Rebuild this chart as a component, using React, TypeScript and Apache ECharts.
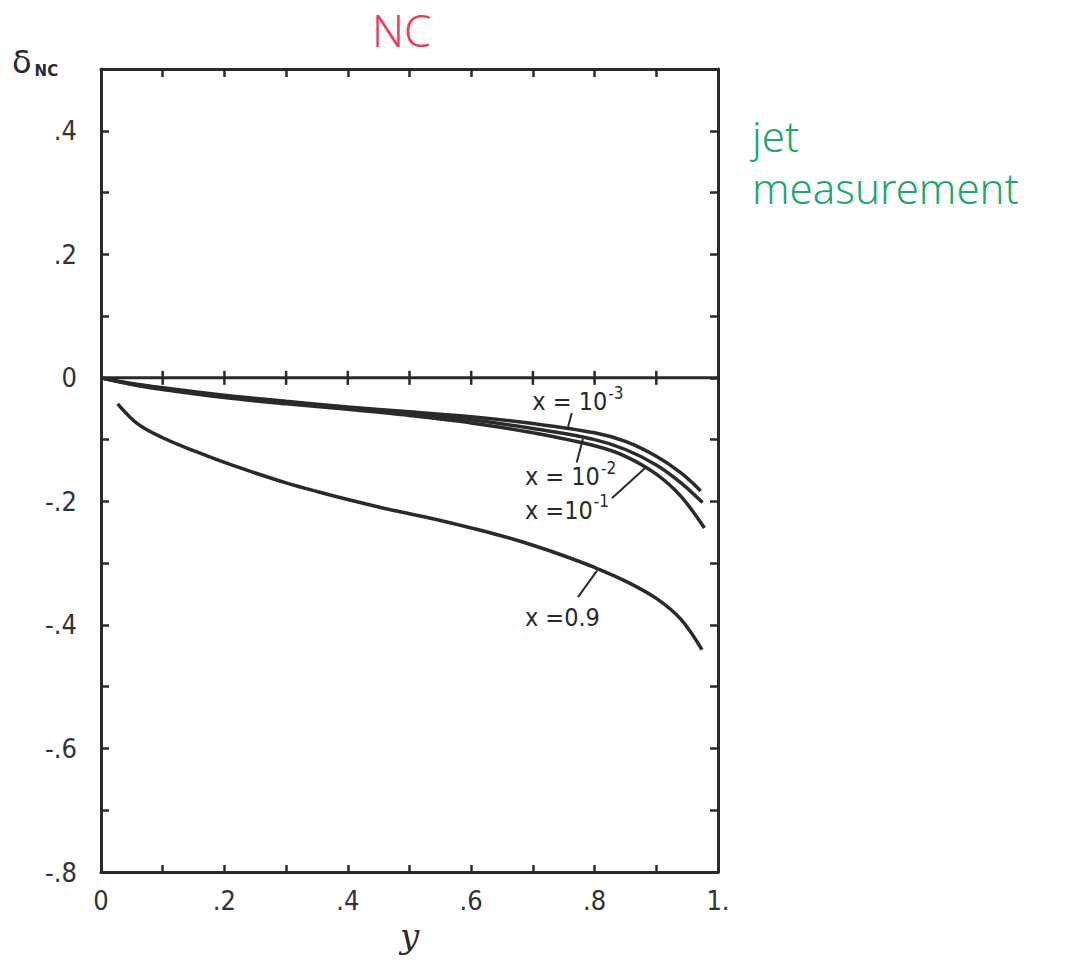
import React, { useEffect, useRef } from "react";
import * as echarts from "echarts";

// ---- data ----
const curveX1e3: [number, number][] = [
  [0, 0], [0.05, -0.009], [0.1, -0.016], [0.2, -0.028], [0.3, -0.038], [0.4, -0.047],
  [0.5, -0.055], [0.6, -0.063], [0.7, -0.074], [0.8, -0.089], [0.85, -0.103],
  [0.9, -0.127], [0.94, -0.154], [0.972, -0.183],
];
const curveX1e2: [number, number][] = [
  [0, 0], [0.05, -0.01], [0.1, -0.017], [0.2, -0.03], [0.3, -0.04], [0.4, -0.049],
  [0.5, -0.058], [0.6, -0.068], [0.7, -0.082], [0.8, -0.1], [0.85, -0.116],
  [0.9, -0.141], [0.94, -0.17], [0.975, -0.202],
];
const curveX1e1: [number, number][] = [
  [0, 0], [0.05, -0.011], [0.1, -0.019], [0.2, -0.032], [0.3, -0.042], [0.4, -0.051],
  [0.5, -0.061], [0.6, -0.073], [0.7, -0.089], [0.8, -0.11], [0.85, -0.127],
  [0.9, -0.156], [0.94, -0.192], [0.978, -0.243],
];
const curveX09: [number, number][] = [
  [0.027, -0.042], [0.06, -0.075], [0.1, -0.097], [0.15, -0.118], [0.2, -0.137],
  [0.25, -0.154], [0.3, -0.17], [0.35, -0.184], [0.4, -0.197], [0.45, -0.209],
  [0.5, -0.22], [0.55, -0.231], [0.6, -0.243], [0.65, -0.256], [0.7, -0.271],
  [0.75, -0.288], [0.8, -0.307], [0.85, -0.329], [0.9, -0.357], [0.94, -0.391],
  [0.974, -0.44],
];

// annotation labels: main text, superscript
const annotationMain = ["x = 10", "x = 10", "x =10", "x =0.9"];
const annotationSup = ["-3", "-2", "-1", ""];
// anchor of text (y, delta), leader start on curve, leader end near text
const annotationText: [number, number][] = [[0.699, -0.035], [0.687, -0.156], [0.687, -0.21], [0.687, -0.384]];
const leaderFrom: [number, number][] = [[0.757, -0.079], [0.781, -0.099], [0.882, -0.146], [0.804, -0.312]];
const leaderTo: [number, number][] = [[0.763, -0.057], [0.771, -0.137], [0.828, -0.195], [0.773, -0.355]];

// ticks on the zero line
const zeroLineTicks = [0.1, 0.2, 0.3, 0.4, 0.5, 0.6, 0.7, 0.8, 0.9];

const yMin = -0.8;
const yMax = 0.5;
const xMin = 0;
const xMax = 1;
const tickStep = 0.1;

const INK = "#2a2a2a";
const FONT = "'DejaVu Sans Condensed', 'Liberation Sans Narrow', 'Roboto Condensed', Roboto, 'DejaVu Sans', sans-serif";

function fmtY(v: number): string {
  const k = Math.round(v * 10);
  if (k % 2 !== 0) return "";
  if (k === 0) return "0";
  return (k < 0 ? "-" : "") + "." + Math.abs(k);
}
function fmtX(v: number): string {
  const k = Math.round(v * 10);
  if (k % 2 !== 0) return "";
  if (k === 0) return "0";
  if (k === 10) return "1.";
  return "." + k;
}

export default function App() {
  const ref = useRef<HTMLDivElement>(null);
  useEffect(() => {
    if (!ref.current) return;
    const chart = echarts.init(ref.current, null, { renderer: "svg" });

    const frameAxis = (extra: any) => ({
      type: "value",
      min: xMin,
      max: xMax,
      interval: tickStep,
      splitLine: { show: false },
      axisLabel: { show: false },
      axisLine: { show: true, onZero: false, lineStyle: { color: INK, width: 3 } },
      axisTick: { show: true, inside: true, length: 8, lineStyle: { color: INK, width: 2.5 } },
      ...extra,
    });

    const lineSeries = (data: [number, number][]) => ({
      type: "line",
      data,
      smooth: 0.35,
      showSymbol: false,
      symbol: "none",
      xAxisIndex: 0,
      yAxisIndex: 0,
      lineStyle: { color: INK, width: 3.5 },
      silent: true,
      z: 5,
    });

    const annRows = annotationMain.map((_, i) => [
      annotationText[i][0], annotationText[i][1],
      leaderFrom[i][0], leaderFrom[i][1],
      leaderTo[i][0], leaderTo[i][1], i,
    ]);

    chart.setOption({
      animation: false,
      backgroundColor: "#ffffff",
      grid: { left: 101, right: 356, top: 69, bottom: 95 },
      xAxis: [
        frameAxis({
          position: "bottom",
          axisLabel: { show: true, formatter: fmtX, color: "#333", fontSize: 27, fontFamily: FONT, margin: 15 },
          name: "y",
          nameLocation: "middle",
          nameGap: 44,
          nameTextStyle: { color: INK, fontSize: 34, fontFamily: "'DejaVu Serif', serif", fontStyle: "italic" },
          axisTick: { show: true, inside: true, length: 7, lineStyle: { color: INK, width: 2.5 } },
        }),
        frameAxis({ position: "top" }),
      ],
      yAxis: [
        {
          type: "value",
          min: yMin,
          max: yMax,
          interval: tickStep,
          position: "left",
          splitLine: { show: false },
          axisLine: { show: true, onZero: false, lineStyle: { color: INK, width: 3 } },
          axisTick: { show: true, inside: true, length: 8, lineStyle: { color: INK, width: 2.5 } },
          axisLabel: { formatter: fmtY, color: "#333", fontSize: 27, fontFamily: FONT, margin: 24 },
        },
        {
          type: "value",
          min: yMin,
          max: yMax,
          interval: tickStep,
          position: "right",
          splitLine: { show: false },
          axisLine: { show: true, onZero: false, lineStyle: { color: INK, width: 3 } },
          axisTick: { show: true, inside: true, length: 8, lineStyle: { color: INK, width: 2.5 } },
          axisLabel: { show: false },
        },
      ],
      series: [
        {
          // zero line with crossing ticks
          type: "custom",
          xAxisIndex: 0,
          yAxisIndex: 0,
          silent: true,
          clip: false,
          z: 4,
          data: [[xMin, xMax]],
          renderItem: (params: any, api: any) => {
            const p0 = api.coord([api.value(0), 0]);
            const p1 = api.coord([api.value(1), 0]);
            const children: any[] = [
              { type: "line", shape: { x1: p0[0], y1: p0[1], x2: p1[0], y2: p1[1] }, style: { stroke: INK, lineWidth: 3 } },
            ];
            zeroLineTicks.forEach((t) => {
              const c = api.coord([t, 0]);
              children.push({
                type: "line",
                shape: { x1: c[0], y1: c[1] - 7, x2: c[0], y2: c[1] + 7 },
                style: { stroke: INK, lineWidth: 2.5 },
              });
            });
            return { type: "group", children };
          },
        },
        lineSeries(curveX1e3),
        lineSeries(curveX1e2),
        lineSeries(curveX1e1),
        lineSeries(curveX09),
        {
          type: "custom",
          xAxisIndex: 0,
          yAxisIndex: 0,
          silent: true,
          clip: false,
          z: 6,
          data: annRows,
          renderItem: (params: any, api: any) => {
            const i = api.value(6);
            const t = api.coord([api.value(0), api.value(1)]);
            const a = api.coord([api.value(2), api.value(3)]);
            const b = api.coord([api.value(4), api.value(5)]);
            const sup = annotationSup[i];
            return {
              type: "group",
              children: [
                {
                  type: "line",
                  shape: { x1: a[0], y1: a[1], x2: b[0], y2: b[1] },
                  style: { stroke: INK, lineWidth: 2 },
                },
                {
                  type: "text",
                  x: t[0],
                  y: t[1],
                  style: {
                    text: sup ? `{m|${annotationMain[i]}}{s|${sup}}` : `{m|${annotationMain[i]}}`,
                    align: "left",
                    verticalAlign: "middle",
                    rich: {
                      m: { fontSize: 25, fontFamily: FONT, fill: INK, lineHeight: 30, verticalAlign: "bottom" },
                      s: { fontSize: 17, fontFamily: FONT, fill: INK, verticalAlign: "top", padding: [0, 0, 0, 1] },
                    },
                  },
                },
              ],
            };
          },
        },
      ],
      graphic: [
        {
          type: "text",
          left: 372,
          top: 8,
          style: { text: "NC", fill: "#ee3a60", fontSize: 44, fontFamily: "'Noto Sans', sans-serif", fontWeight: 300 },
        },
        {
          type: "text",
          left: 12,
          top: 46,
          style: {
            text: "{d|δ}{s|NC}",
            rich: {
              d: { fontSize: 32, fontFamily: "'DejaVu Sans', sans-serif", fill: INK, lineHeight: 38, verticalAlign: "bottom" },
              s: { fontSize: 15, fontFamily: "'DejaVu Sans', sans-serif", fontWeight: "bold", fill: INK, verticalAlign: "bottom", padding: [0, 0, 0, 3] },
            },
          },
        },
        {
          type: "text",
          left: 752,
          top: 114,
          style: {
            text: "jet",
            fill: "#1fa86e",
            fontSize: 42,
            fontFamily: "'Noto Sans', sans-serif",
            fontWeight: 300,
          },
        },
        {
          type: "text",
          left: 752,
          top: 166,
          style: {
            text: "measurement",
            fill: "#1fa86e",
            fontSize: 42,
            fontFamily: "'Noto Sans', sans-serif",
            fontWeight: 300,
            letterSpacing: 1,
          },
        },
      ],
    });
    return () => chart.dispose();
  }, []);
  return <div ref={ref} style={{ position: "absolute", left: 0, top: 0, width: 1074, height: 967 }} />;
}
